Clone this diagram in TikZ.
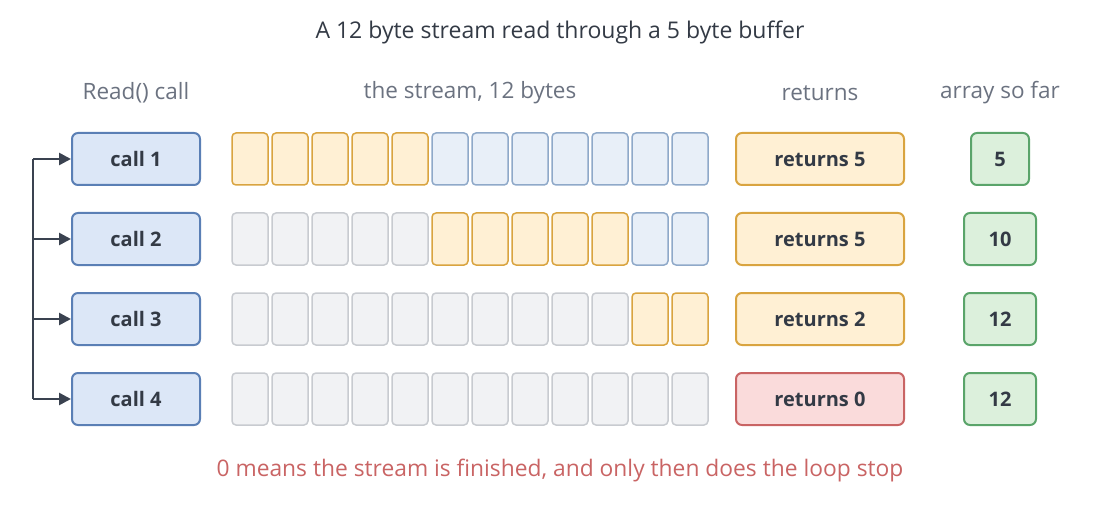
\documentclass[tikz,border=0pt]{standalone}
\usepackage{fontspec}
\setmainfont{Open Sans}
\usetikzlibrary{arrows.meta}
\definecolor{txt}{HTML}{333A45}
\definecolor{hdr}{HTML}{6B7280}
\definecolor{cf}{HTML}{DCE7F7}\definecolor{cs}{HTML}{5A7FB5}
\definecolor{of}{HTML}{FFF0D4}\definecolor{os}{HTML}{D9A440}
\definecolor{bf}{HTML}{E8EFF8}\definecolor{bs}{HTML}{8FA9C9}
\definecolor{gf}{HTML}{F1F2F4}\definecolor{gs}{HTML}{C8CBD0}
\definecolor{rf}{HTML}{FADBDB}\definecolor{rs}{HTML}{C96464}
\definecolor{nf}{HTML}{DCF0DC}\definecolor{ns}{HTML}{5AA46A}
\definecolor{ln}{HTML}{3A4250}
\begin{document}
\begin{tikzpicture}[x=1pt,y=-1pt,
  box/.style={draw,rounded corners=6pt,line width=2pt,minimum height=52pt,inner sep=0pt,font=\fontsize{20}{24}\selectfont\bfseries,text=txt},
  callb/.style={box,fill=cf,draw=cs,minimum width=128pt},
  retb/.style={box,minimum width=168pt},
  arrb/.style={box,fill=nf,draw=ns,minimum width=72pt},
  cell/.style={draw,rounded corners=4pt,line width=1.5pt,minimum width=36pt,minimum height=52pt,inner sep=0pt},
  O/.style={cell,fill=of,draw=os},B/.style={cell,fill=bf,draw=bs},G/.style={cell,fill=gf,draw=gs},
  hd/.style={text=hdr,font=\fontsize{22.5}{27}\selectfont},
  arr/.style={-{Triangle[length=12pt,width=12pt]},line width=2.6pt,draw=ln}]
\useasboundingbox (0,0) rectangle (1120,524);
\node[text=txt,font=\fontsize{23}{27}\selectfont] (title) at (560,32) {A 12 byte stream read through a 5 byte buffer};
\node[hd] (h1) at (136,93) {Read() call};
\node[hd] (h2) at (470,93) {the stream, 12 bytes};
\node[hd] (h3) at (820,93) {returns};
\node[hd] (h4) at (1000,93) {array so far};
\foreach \r/\y/\s in {1/159/{O,O,O,O,O,B,B,B,B,B,B,B},2/239/{G,G,G,G,G,O,O,O,O,O,B,B},3/319/{G,G,G,G,G,G,G,G,G,G,O,O},4/399/{G,G,G,G,G,G,G,G,G,G,G,G}}{
  \node[callb] (c\r) at (136,\y) {call \r};
  \foreach \st [count=\i from 0] in \s {\node[\st] (s\r-\i) at (250+40*\i,\y) {};}
  \coordinate (k\r) at (33,\y);
}
\node[retb,fill=of,draw=os] (r1) at (820,159) {returns 5};
\node[retb,fill=of,draw=os] (r2) at (820,239) {returns 5};
\node[retb,fill=of,draw=os] (r3) at (820,319) {returns 2};
\node[retb,fill=rf,draw=rs] (r4) at (820,399) {returns 0};
\node[arrb,minimum width=58pt] (a1) at (1000,159) {5};
\node[arrb] (a2) at (1000,239) {10};
\node[arrb] (a3) at (1000,319) {12};
\node[arrb] (a4) at (1000,399) {12};
\draw[line width=2.6pt,draw=ln] (k1) -- (k4);
\foreach \r in {1,2,3,4}{\draw[arr] (k\r) -- (c\r.west);}
\node[text=rs,font=\fontsize{22.8}{27}\selectfont] (foot) at (560,471) {0 means the stream is finished, and only then does the loop stop};
\end{tikzpicture}
\end{document}
